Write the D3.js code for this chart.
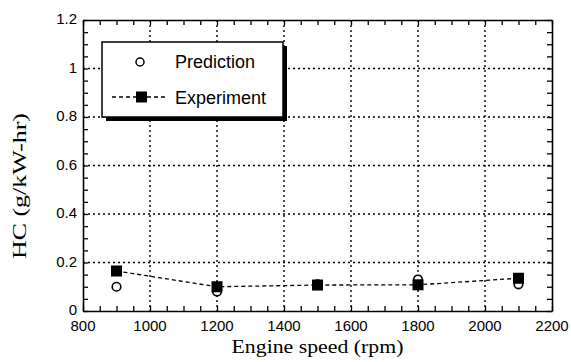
<!DOCTYPE html>
<html>
<head>
<meta charset="utf-8">
<script src="https://cdn.jsdelivr.net/npm/d3@7"></script>
<style>
  body { margin: 0; background: #fff; }
  .tick-label { font-family: Arial, "Liberation Sans", sans-serif; font-size: 15px; fill: #000; }
  .axeslabel { font-family: "Times New Roman", "Liberation Serif", serif; font-size: 19px; fill: #000; }
  .legend-text { font-family: Arial, "Liberation Sans", sans-serif; font-size: 18px; fill: #000; }
</style>
</head>
<body>
<script>
// data
var speeds      = [900, 1200, 1500, 1800, 2100];
var prediction  = [0.10, 0.08, 0.11, 0.13, 0.11];
var experiment  = [0.165, 0.10, 0.107, 0.108, 0.135];
var xTicks      = [800, 1000, 1200, 1400, 1600, 1800, 2000, 2200];
var yTicks      = [0, 0.2, 0.4, 0.6, 0.8, 1, 1.2];

var margin = {top: 20, right: 19, bottom: 51, left: 83}
  , width = 571 - margin.left - margin.right
  , height = 362 - margin.top - margin.bottom;

var xScale = d3.scaleLinear().domain([800, 2200]).range([0, width]);
var yScale = d3.scaleLinear().domain([0, 1.2]).range([height, 0]);

var svg = d3.select("body").append("svg")
    .attr("width", 571)
    .attr("height", 362)
  .append("g")
    .attr("transform", "translate(" + margin.left + "," + margin.top + ")");

// dotted grid
svg.append("g").selectAll("line")
  .data(xTicks.slice(1, -1)).enter()
  .append("line")
  .attr("x1", function(d) { return xScale(d); })
  .attr("x2", function(d) { return xScale(d); })
  .attr("y1", 0).attr("y2", height)
  .attr("stroke", "#000").attr("stroke-width", 1.4)
  .attr("stroke-dasharray", "2,3");

svg.append("g").selectAll("line")
  .data(yTicks.slice(1, -1)).enter()
  .append("line")
  .attr("y1", function(d) { return yScale(d); })
  .attr("y2", function(d) { return yScale(d); })
  .attr("x1", 0).attr("x2", width)
  .attr("stroke", "#000").attr("stroke-width", 1.4)
  .attr("stroke-dasharray", "2,3");

// minor ticks on all four sides (inward)
var xMinor = d3.range(800, 2201, 50);
var yMinor = d3.range(0, 1.2001, 0.05);

function ticksAxis(axis, tickVals, len, transform) {
  svg.append("g")
    .attr("transform", transform)
    .call(axis.tickValues(tickVals).tickSize(len).tickFormat("").tickSizeOuter(0))
    .call(function(g) {
      g.select(".domain").attr("stroke-width", 1.6);
      g.selectAll(".tick line").attr("stroke-width", 1.3);
    });
}
ticksAxis(d3.axisTop(xScale), xMinor, 5, "translate(0," + height + ")");
ticksAxis(d3.axisBottom(xScale), xMinor, 5, "translate(0,0)");
ticksAxis(d3.axisRight(yScale), yMinor, 5, "translate(0,0)");
ticksAxis(d3.axisLeft(yScale), yMinor, 5, "translate(" + width + ",0)");

// tick labels
svg.append("g").selectAll("text")
  .data(xTicks).enter()
  .append("text")
  .attr("class", "tick-label")
  .attr("x", function(d) { return xScale(d); })
  .attr("y", height + 20)
  .style("text-anchor", "middle")
  .text(function(d) { return d; });

svg.append("g").selectAll("text")
  .data(yTicks).enter()
  .append("text")
  .attr("class", "tick-label")
  .attr("x", -6)
  .attr("y", function(d) { return yScale(d) + 4; })
  .style("text-anchor", "end")
  .text(function(d) { return d; });

// axis labels
svg.append("text")
  .attr("class", "axeslabel")
  .attr("x", width / 2)
  .attr("y", height + 42)
  .attr("textLength", 172)
  .attr("lengthAdjust", "spacingAndGlyphs")
  .style("text-anchor", "middle")
  .text("Engine speed (rpm)");

svg.append("text")
  .attr("class", "axeslabel")
  .attr("transform", "rotate(-90)")
  .attr("x", -166)
  .attr("y", -57)
  .attr("textLength", 146)
  .attr("lengthAdjust", "spacingAndGlyphs")
  .style("text-anchor", "middle")
  .text("HC (g/kW-hr)");

// experiment dashed line
var line = d3.line()
  .x(function(d, i) { return xScale(speeds[i]); })
  .y(function(d) { return yScale(d); });

svg.append("path")
  .datum(experiment)
  .attr("d", line)
  .attr("fill", "none")
  .attr("stroke", "#000")
  .attr("stroke-width", 1.3)
  .attr("stroke-dasharray", "4,3");

// prediction circles
svg.append("g").selectAll("circle")
  .data(prediction).enter()
  .append("circle")
  .attr("cx", function(d, i) { return xScale(speeds[i]); })
  .attr("cy", function(d) { return yScale(d); })
  .attr("r", 4.3)
  .attr("fill", "#fff")
  .attr("stroke", "#000")
  .attr("stroke-width", 1.6);

// experiment squares
svg.append("g").selectAll("rect")
  .data(experiment).enter()
  .append("rect")
  .attr("x", function(d, i) { return xScale(speeds[i]) - 5.5; })
  .attr("y", function(d) { return yScale(d) - 5.5; })
  .attr("width", 11).attr("height", 11)
  .attr("fill", "#000");

// legend
var lg = svg.append("g").attr("transform", "translate(19,22)");
lg.append("rect")
  .attr("x", 4).attr("y", 4)
  .attr("width", 181).attr("height", 75)
  .attr("fill", "#000");
lg.append("rect")
  .attr("x", 0).attr("y", 0)
  .attr("width", 181).attr("height", 75)
  .attr("fill", "#fff")
  .attr("stroke", "#000").attr("stroke-width", 1.5);

lg.append("circle")
  .attr("cx", 38).attr("cy", 20)
  .attr("r", 4).attr("fill", "#fff")
  .attr("stroke", "#000").attr("stroke-width", 1.5);
lg.append("text").attr("class", "legend-text")
  .attr("x", 73).attr("y", 26).text("Prediction");

lg.append("line")
  .attr("x1", 10).attr("x2", 66)
  .attr("y1", 55).attr("y2", 55)
  .attr("stroke", "#000").attr("stroke-width", 1.3)
  .attr("stroke-dasharray", "4,3");
lg.append("rect")
  .attr("x", 34).attr("y", 49.5)
  .attr("width", 11).attr("height", 11)
  .attr("fill", "#000");
lg.append("text").attr("class", "legend-text")
  .attr("x", 73).attr("y", 62).text("Experiment");
</script>
</body>
</html>
